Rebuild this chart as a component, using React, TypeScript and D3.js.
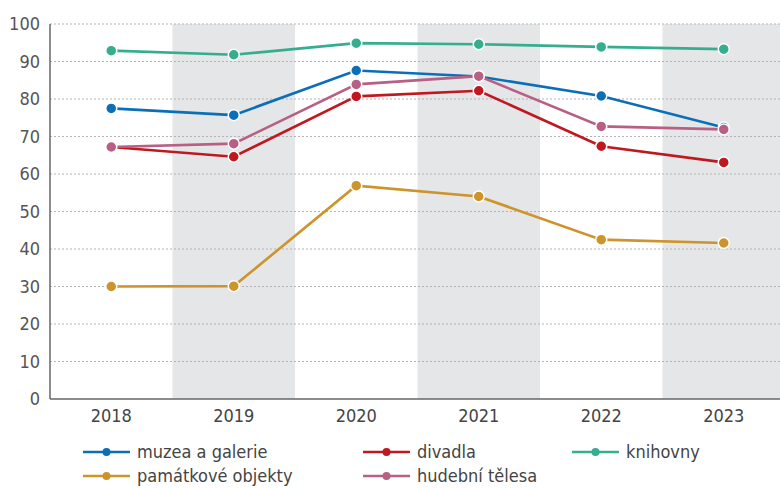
import React, { useEffect, useRef } from "react";
import * as d3 from "d3";

const years = ["2018", "2019", "2020", "2021", "2022", "2023"];
const muzea = [77.5, 75.7, 87.6, 86.0, 80.8, 72.4];
const divadla = [67.2, 64.6, 80.7, 82.2, 67.4, 63.1];
const knihovny = [92.9, 91.8, 94.9, 94.6, 93.9, 93.3];
const pamatkove = [30.0, 30.1, 56.9, 54.0, 42.5, 41.6];
const hudebni = [67.2, 68.1, 83.9, 86.1, 72.7, 71.9];
const yTicks = [0, 10, 20, 30, 40, 50, 60, 70, 80, 90, 100];

const series = [
  { name: "muzea a galerie", values: muzea, color: "#0b6fb8" },
  { name: "divadla", values: divadla, color: "#c0181f" },
  { name: "knihovny", values: knihovny, color: "#34ae8f" },
  { name: "památkové objekty", values: pamatkove, color: "#cd942b" },
  { name: "hudební tělesa", values: hudebni, color: "#b85f84" },
];

const font = "'Liberation Sans Narrow', 'DejaVu Sans Condensed', 'Roboto', sans-serif";

export default function App() {
  const ref = useRef<SVGSVGElement>(null);

  useEffect(() => {
    const width = 780;
    const height = 488;
    const left = 50;
    const right = 785;
    const top = 24;
    const bottom = 399;

    const svg = d3.select(ref.current).attr("width", width).attr("height", height);
    svg.selectAll("*").remove();

    const x = d3.scaleBand().domain(years).range([left, right]);
    const y = d3.scaleLinear().domain([0, 100]).range([bottom, top]);

    // shaded columns for every second year
    svg
      .append("g")
      .selectAll("rect")
      .data(years.filter((d, i) => i % 2 === 1))
      .enter()
      .append("rect")
      .attr("x", (d) => x(d)!)
      .attr("y", top)
      .attr("width", x.bandwidth())
      .attr("height", bottom - top)
      .attr("fill", "#e5e6e7");

    // dashed grid
    svg
      .append("g")
      .selectAll("line")
      .data(yTicks.filter((d) => d > 0))
      .enter()
      .append("line")
      .attr("x1", left)
      .attr("x2", width)
      .attr("y1", (d) => y(d))
      .attr("y2", (d) => y(d))
      .attr("stroke", "#b3b3b3")
      .attr("stroke-width", 1)
      .attr("stroke-dasharray", "2 2");

    // y labels
    svg
      .append("g")
      .selectAll("text")
      .data(yTicks)
      .enter()
      .append("text")
      .attr("x", 40)
      .attr("y", (d) => y(d))
      .attr("dy", "0.35em")
      .attr("text-anchor", "end")
      .attr("font-family", font)
      .attr("font-size", 18)
      .attr("fill", "#555")
      .text((d) => d);

    // x labels
    svg
      .append("g")
      .selectAll("text")
      .data(years)
      .enter()
      .append("text")
      .attr("x", (d) => x(d)! + x.bandwidth() / 2)
      .attr("y", 416)
      .attr("dy", "0.35em")
      .attr("text-anchor", "middle")
      .attr("font-family", font)
      .attr("font-size", 18)
      .attr("fill", "#444")
      .text((d) => d);

    // axes lines
    svg
      .append("line")
      .attr("x1", left)
      .attr("x2", left)
      .attr("y1", top)
      .attr("y2", bottom)
      .attr("stroke", "#666")
      .attr("stroke-width", 1.5);
    svg
      .append("line")
      .attr("x1", left)
      .attr("x2", width)
      .attr("y1", bottom)
      .attr("y2", bottom)
      .attr("stroke", "#666")
      .attr("stroke-width", 1.5);

    const line = d3
      .line<number>()
      .x((d, i) => x(years[i])! + x.bandwidth() / 2)
      .y((d) => y(d));

    series.forEach((s) => {
      const g = svg.append("g");
      g.append("path")
        .datum(s.values)
        .attr("d", line)
        .attr("fill", "none")
        .attr("stroke", s.color)
        .attr("stroke-width", 2.6);
      g.selectAll("circle")
        .data(s.values)
        .enter()
        .append("circle")
        .attr("cx", (d, i) => x(years[i])! + x.bandwidth() / 2)
        .attr("cy", (d) => y(d))
        .attr("r", 5.5)
        .attr("fill", s.color)
        .attr("stroke", "#fff")
        .attr("stroke-width", 1.5);
    });

    // legend
    const legendX = [83, 363, 572];
    const legendY = [452, 476];
    const lg = svg.append("g");
    series.forEach((s, i) => {
      const lx = legendX[i % 3];
      const ly = legendY[Math.floor(i / 3)];
      const item = lg.append("g");
      item
        .append("line")
        .attr("x1", lx)
        .attr("x2", lx + 47)
        .attr("y1", ly)
        .attr("y2", ly)
        .attr("stroke", s.color)
        .attr("stroke-width", 2.6);
      item
        .append("circle")
        .attr("cx", lx + 23.5)
        .attr("cy", ly)
        .attr("r", 4)
        .attr("fill", s.color);
      item
        .append("text")
        .attr("x", lx + 54)
        .attr("y", ly)
        .attr("dy", "0.35em")
        .attr("font-family", font)
        .attr("font-size", 18)
        .attr("fill", "#444")
        .text(s.name);
    });
  }, []);

  return (
    <svg
      ref={ref}
      style={{ position: "absolute", left: 0, top: 0, display: "block" }}
    />
  );
}
